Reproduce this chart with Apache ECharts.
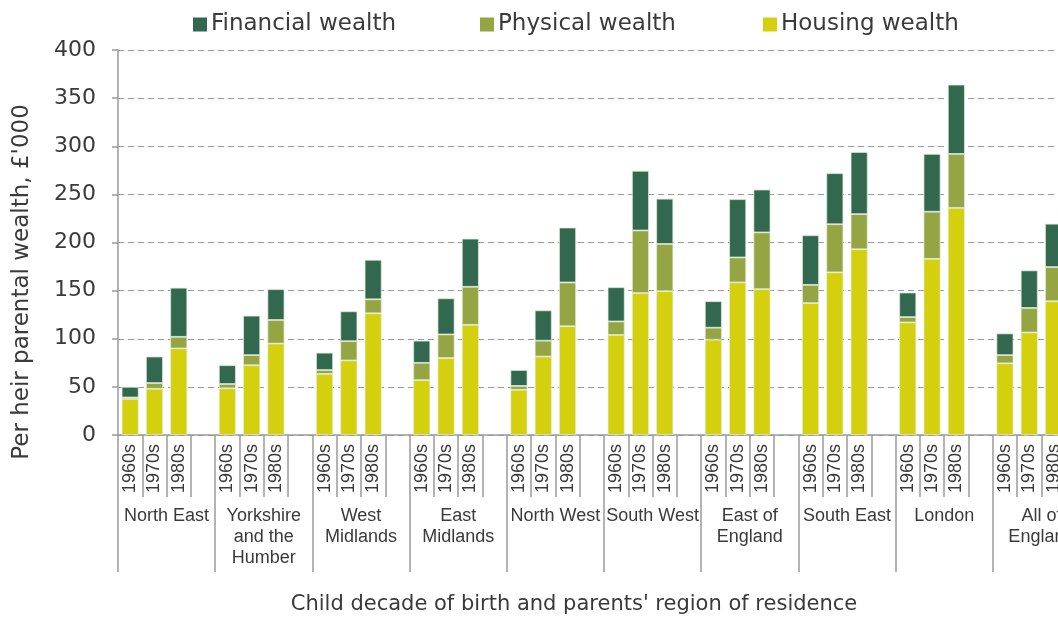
<!DOCTYPE html>
<html>
<head>
<meta charset="utf-8">
<script src="https://cdn.jsdelivr.net/npm/echarts@6/dist/echarts.min.js"></script>
<style>
html,body{margin:0;padding:0;background:#fff;}
#chart{width:1058px;height:618px;}
</style>
</head>
<body>
<div id="chart"></div>
<script>
const regions = ['North East','Yorkshire\nand the\nHumber','West\nMidlands','East\nMidlands','North West','South West','East of\nEngland','South East','London','All of\nEngland'];
const decades = ['1960s','1970s','1980s'];
const housing   = [37.5,48,90, 48.5,72.5,95, 63.5,77.5,126.5, 57,80,114.5, 47,81.5,113, 104,147.5,149.5, 99,158.5,151.5, 137,169,193, 117,183,236, 74.5,106.5,139];
const physical  = [1.5,6,12, 4.5,10.5,24.5, 4,20,14.5, 18,24.5,39.5, 4,16.5,45.5, 14,65,49, 12.5,26,59, 19,50,36.5, 5.5,49,56, 8.5,25.5,35.5];
const financial = [11,27.5,51, 19.5,41,32, 18,31,41, 23,37.5,50, 16.5,31.5,57, 35.5,62,47, 27.5,60.5,44.5, 51.5,53,64.5, 25.5,60,72, 22.5,39,45];
const yTicks = [0,50,100,150,200,250,300,350,400];

// Build slots: 3 decades + 1 empty gap per region
const cats = [];
function slots(arr){
  const out = [];
  regions.forEach((r,i)=>{
    for(let k=0;k<3;k++) out.push(arr[i*3+k]);
    out.push(null);
  });
  return out;
}
regions.forEach(()=>{ decades.forEach(d=>cats.push(d)); cats.push(''); });

const TXT = '#3a3a3a';
const GRID = '#9a9a9a';
const chart = echarts.init(document.getElementById('chart'));
const legendBase = {top:13, padding:0, itemWidth:14, itemHeight:14, icon:'rect', itemGap:0,
  itemStyle:{borderWidth:0},
  textStyle:{fontFamily:'DejaVu Sans', fontSize:23, color:TXT, padding:[0,0,0,-1]}};
chart.setOption({
  animation:false,
  backgroundColor:'#fff',
  legend:[
    Object.assign({data:['Financial wealth'], left:193}, legendBase),
    Object.assign({data:['Physical wealth'], left:480}, legendBase),
    Object.assign({data:['Housing wealth'], left:763}, legendBase)
  ],
  grid:{left:118, top:50, width:972, height:385, containLabel:false, outerBoundsMode:'none'},
  xAxis:[{
    type:'category', position:'bottom', data:cats,
    axisLine:{show:true, lineStyle:{color:GRID, width:1.5}},
    axisTick:{show:true, interval:0, length:62, lineStyle:{color:GRID, width:1.5}},
    axisLabel:{interval:0, rotate:90, margin:9, fontFamily:'Liberation Sans', fontSize:18, color:TXT}
  },{
    type:'category', position:'bottom', offset:0, data:regions,
    axisLine:{show:false},
    axisTick:{show:true, interval:0, length:137, lineStyle:{color:GRID, width:1.5}},
    axisLabel:{interval:0, margin:71, fontFamily:'Liberation Sans', fontSize:18, lineHeight:21, color:TXT, verticalAlign:'top'}
  }],
  yAxis:{
    type:'value', min:0, max:400, interval:50,
    axisLine:{show:true, lineStyle:{color:GRID, width:1.5}},
    axisTick:{show:true, length:6, lineStyle:{color:GRID, width:1.5}},
    axisLabel:{margin:22, fontFamily:'DejaVu Sans', fontSize:22, color:TXT,
      formatter:v=>yTicks.includes(v)?String(v):''},
    splitLine:{show:true, lineStyle:{color:GRID, type:[6,4], width:1.2}}
  },
  graphic:[
    {type:'text', x:22, y:282, rotation:Math.PI/2,
      style:{text:"Per heir parental wealth, £'000", fontFamily:'DejaVu Sans', fontSize:23, fill:TXT, align:'center', verticalAlign:'middle'}},
    {type:'text', x:574, y:605,
      style:{text:"Child decade of birth and parents' region of residence", fontFamily:'DejaVu Sans', fontSize:21, fill:TXT, align:'center', verticalAlign:'middle'}}
  ],
  series:[
    {name:'Housing wealth', type:'bar', stack:'w', barWidth:17, data:slots(housing),
      itemStyle:{color:'#d4d00e', borderColor:'rgba(225,235,215,0.9)', borderWidth:0.8}},
    {name:'Physical wealth', type:'bar', stack:'w', barWidth:17, data:slots(physical),
      itemStyle:{color:'#95a543', borderColor:'rgba(225,235,215,0.9)', borderWidth:0.8}},
    {name:'Financial wealth', type:'bar', stack:'w', barWidth:17, data:slots(financial),
      itemStyle:{color:'#336850', borderColor:'rgba(225,235,215,0.9)', borderWidth:0.8}}
  ]
});
</script>
</body>
</html>
